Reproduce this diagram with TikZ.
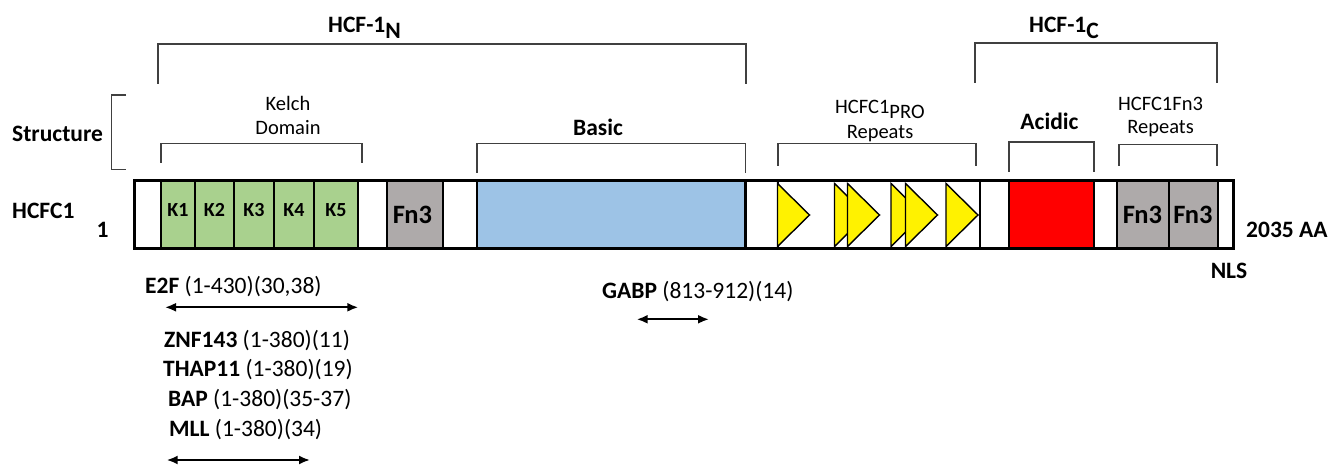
\documentclass[tikz,border=0pt]{standalone}
\usepackage{fontspec}
\setmainfont{Carlito}
\usetikzlibrary{arrows.meta}
\definecolor{kelchgreen}{RGB}{169,209,142}
\definecolor{fngray}{RGB}{174,170,170}
\definecolor{basicblue}{RGB}{157,195,230}
\definecolor{bracketgray}{RGB}{64,64,64}

\begin{document}
\begin{tikzpicture}[x=1pt, y=-1pt,
    lbl/.style={inner sep=0pt, font=\bfseries\fontsize{23.5}{28}\selectfont},
    reg lbl/.style={inner sep=0pt, font=\fontsize{20.5}{24}\selectfont},
    klbl/.style={inner sep=0pt, font=\bfseries\fontsize{20}{24}\selectfont},
    fnlbl/.style={inner sep=0pt, font=\bfseries\fontsize{26.5}{30}\selectfont},
    bind/.style={inner sep=0pt, anchor=base west, font=\fontsize{23.5}{28}\selectfont},
    seg/.style={draw=black, line width=2.3pt},
    brk/.style={draw=bracketgray, line width=1.4pt},
    rpt/.style={draw=black, fill=yellow, line width=1.4pt, line join=miter},
    span/.style={{Latex[length=11pt,width=9pt]}-{Latex[length=11pt,width=9pt]}, line width=2pt}]
    \useasboundingbox[fill=white] (0,0) rectangle (1330,465);

    % N- and C-terminal halves
    \node[lbl, anchor=base west] (hcfN) at (328,32.3) {HCF-1\raisebox{-6pt}{N}};
    \node[lbl, anchor=base west] (hcfC) at (1029,32.3) {HCF-1\raisebox{-6pt}{C}};
    \draw[brk] (158,84) |- (746,44) -- (746,84);
    \draw[brk] (975,83) |- (1217,43) -- (1217,83);

    % Structure row
    \node[lbl, anchor=base west] (struct) at (12,141.7) {Structure};
    \draw[brk] (126,95) -| (111.7,169.3) -- (126,169.3);
    \node[reg lbl, anchor=base] (kelch) at (288,110.7) {Kelch};
    \node[reg lbl, anchor=base] (kelchdom) at (288,135) {Domain};
    \draw[brk] (161,163) |- (362,143.3) -- (362,163);
    \node[lbl, anchor=base] (basic) at (598,136) {Basic};
    \draw[brk] (477,173) |- (745.5,143.3) -- (745.5,173);
    \node[reg lbl, anchor=base west] (pro) at (835,113.5) {HCFC1\raisebox{-5pt}{PRO}};
    \node[reg lbl, anchor=base] (prorep) at (880,138.5) {Repeats};
    \draw[brk] (778,166) |- (976,143.3) -- (976,166);
    \node[lbl, anchor=base] (acidic) at (1049.5,130) {Acidic};
    \draw[brk] (1009,172) |- (1094,142) -- (1094,172);
    \node[reg lbl, anchor=base] (fnrep) at (1160.5,110.7) {HCFC1Fn3};
    \node[reg lbl, anchor=base] (fnreprep) at (1160.5,134) {Repeats};
    \draw[brk] (1119,166) |- (1217,144.3) -- (1217,166);

    % Protein bar
    \node[lbl, anchor=base west] (prot) at (12,218.3) {HCFC1};
    \node[lbl, anchor=base] (first) at (102.5,237.7) {1};
    \node[lbl, anchor=base west] (last) at (1246,237.7) {2035 AA};
    \node[lbl, anchor=base] (nls) at (1229,278.3) {NLS};
    \fill[white] (134,181) rectangle (1233,248);
    \foreach \a/\b/\k in {161/195/1, 195/234/2, 234/274/3, 274/314/4, 314/358/5} {
        \draw[seg, fill=kelchgreen] (\a,181) rectangle (\b,248);
        \node[klbl, anchor=base] (k\k) at ({(\a+\b)/2},216) {K\k};
    }
    \draw[seg, fill=fngray] (387,181) rectangle (443,248);
    \node[fnlbl, anchor=base] (fnA) at (412.5,223.3) {Fn3};
    \draw[seg, fill=basicblue] (477,181) rectangle (745.5,248);
    \draw[seg] (778,181) rectangle (980,248);
    \foreach \x in {777.5, 834.5, 847.5, 891, 905.5, 946}
        \draw[rpt] (\x,183.5) -- ++(32,31.5) -- ++(-32,31.5) -- cycle;
    \draw[seg, fill=red] (1009,181) rectangle (1094,248);
    \draw[seg, fill=fngray] (1117,181) rectangle (1169,248);
    \draw[seg, fill=fngray] (1169,181) rectangle (1218,248);
    \node[fnlbl, anchor=base] (fnB) at (1142.5,223.3) {Fn3};
    \node[fnlbl, anchor=base] (fnC) at (1193,223.3) {Fn3};
    \draw[line width=3pt] (134,181) rectangle (1233,248);

    % Binding partners
    \node[bind] (e2f) at (145,293.3) {\textbf{E2F} (1-430)(30,38)};
    \coordinate (e2fL) at (165,307.3);
    \coordinate (e2fR) at (358.3,307.3);
    \draw[span] (e2fL) -- (e2fR);
    \node[bind] (znf) at (164,347.3) {\textbf{ZNF143} (1-380)(11)};
    \node[bind] (thap) at (163,376.7) {\textbf{THAP11} (1-380)(19)};
    \node[bind] (bap) at (168,406.7) {\textbf{BAP} (1-380)(35-37)};
    \node[bind] (mll) at (169,436.7) {\textbf{MLL} (1-380)(34)};
    \coordinate (kelchL) at (166.7,460);
    \coordinate (kelchR) at (310,460);
    \draw[span] (kelchL) -- (kelchR);
    \node[bind] (gabp) at (602,298.3) {\textbf{GABP} (813-912)(14)};
    \coordinate (gabpL) at (636.7,319.3);
    \coordinate (gabpR) at (709,319.3);
    \draw[span] (gabpL) -- (gabpR);
\end{tikzpicture}
\end{document}
